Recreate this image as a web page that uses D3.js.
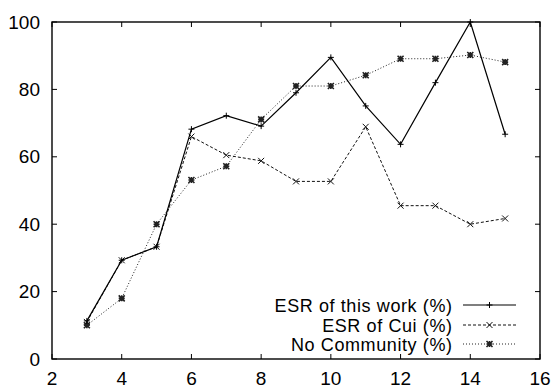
<!DOCTYPE html>
<html>
<head>
<meta charset="utf-8">
<script src="https://cdn.jsdelivr.net/npm/d3@7/dist/d3.min.js"></script>
<style>
body{ margin:0; background:#fff; }
svg text{ font-family:"Liberation Sans", Arial, sans-serif; fill:#000; }
</style>
</head>
<body>
<script>
// data
var xs = [3, 4, 5, 6, 7, 8, 9, 10, 11, 12, 13, 14, 15];
var esrThisWork = [11.3, 29.3, 33.3, 68.2, 72.2, 69.1, 79, 89.5, 75.1, 63.7, 82, 100, 66.7];
var esrCui = [11, 29.3, 33.3, 66, 60.5, 58.8, 52.7, 52.7, 68.9, 45.5, 45.5, 40, 41.7];
var noCommunity = [10, 18, 40, 53.1, 57.2, 71.1, 81, 81, 84.2, 89.1, 89.1, 90.2, 88.1];
var seriesNames = ["ESR of this work (%)", "ESR of Cui (%)", "No Community (%)"];
var xTicks = [2, 4, 6, 8, 10, 12, 14, 16];
var yTicks = [0, 20, 40, 60, 80, 100];

var width = 555, height = 388;
// plot box (note: "top" is reserved on window, so use plot* names)
var plotL = 52, plotR = 540, plotT = 22, plotB = 359;

var svg = d3.select("body").append("svg")
    .attr("width", width)
    .attr("height", height);

var x = d3.scaleLinear().domain([2, 16]).range([plotL, plotR]);
var y = d3.scaleLinear().domain([0, 100]).range([plotB, plotT]);

// ticks on all four sides, pointing inward
var tickLen = 5;
var ticks = svg.append("g").attr("stroke", "#000").attr("stroke-width", 1);
xTicks.forEach(function(t){
	ticks.append("line").attr("x1", x(t)).attr("x2", x(t)).attr("y1", plotB).attr("y2", plotB - tickLen);
	ticks.append("line").attr("x1", x(t)).attr("x2", x(t)).attr("y1", plotT).attr("y2", plotT + tickLen);
});
yTicks.forEach(function(t){
	ticks.append("line").attr("x1", plotL).attr("x2", plotL + tickLen).attr("y1", y(t)).attr("y2", y(t));
	ticks.append("line").attr("x1", plotR).attr("x2", plotR - tickLen).attr("y1", y(t)).attr("y2", y(t));
});

svg.append("rect")
    .attr("x", plotL).attr("y", plotT)
    .attr("width", plotR - plotL).attr("height", plotB - plotT)
    .attr("fill", "none").attr("stroke", "#000").attr("stroke-width", 1.4);

svg.selectAll("text.xl").data(xTicks).enter().append("text")
    .attr("class", "xl")
    .attr("x", function(d){ return x(d); })
    .attr("y", 385)
    .attr("text-anchor", "middle")
    .attr("font-size", "19px")
    .text(function(d){ return d; });

svg.selectAll("text.yl").data(yTicks).enter().append("text")
    .attr("class", "yl")
    .attr("x", 40)
    .attr("y", function(d){ return y(d) + 6.5; })
    .attr("text-anchor", "end")
    .attr("font-size", "19px")
    .text(function(d){ return d; });

var styles = [
	{ values: esrThisWork, dash: null, color: "#000", width: 1.2, mark: "plus" },
	{ values: esrCui, dash: "3,2", color: "#111", width: 1, mark: "cross" },
	{ values: noCommunity, dash: "1,2", color: "#222", width: 1, mark: "star" }
];

function drawMark(g, kind, cx, cy, color){
	var s = 3;
	var p = d3.path();
	if(kind == "plus" || kind == "star"){
		p.moveTo(cx - s, cy); p.lineTo(cx + s, cy);
		p.moveTo(cx, cy - s); p.lineTo(cx, cy + s);
	}
	if(kind == "cross" || kind == "star"){
		p.moveTo(cx - s, cy - s); p.lineTo(cx + s, cy + s);
		p.moveTo(cx - s, cy + s); p.lineTo(cx + s, cy - s);
	}
	g.append("path").attr("d", p.toString())
		.attr("stroke", color).attr("stroke-width", kind == "star" ? 1.6 : 1)
		.attr("fill", "none");
}

var line = d3.line()
    .x(function(d, i){ return x(xs[i]); })
    .y(function(d){ return y(d); });

styles.slice().reverse().forEach(function(st){
	var g = svg.append("g");
	g.append("path")
		.attr("d", line(st.values))
		.attr("fill", "none")
		.attr("stroke", st.color)
		.attr("stroke-width", st.width)
		.attr("stroke-dasharray", st.dash);
	st.values.forEach(function(v, i){
		drawMark(g, st.mark, x(xs[i]), y(v), st.color);
	});
});

// legend
var legendY = [305, 325, 344];
styles.forEach(function(st, i){
	var ly = legendY[i];
	svg.append("text")
		.attr("x", 452.6).attr("y", ly + 6.5)
		.attr("text-anchor", "end")
		.attr("font-size", "18px")
		.attr("letter-spacing", "0.6px")
		.text(seriesNames[i]);
	svg.append("line")
		.attr("x1", 463).attr("x2", 516).attr("y1", ly).attr("y2", ly)
		.attr("stroke", st.color).attr("stroke-width", st.width)
		.attr("stroke-dasharray", st.dash);
	drawMark(svg, st.mark, 489.5, ly, st.color);
});
</script>
</body>
</html>
